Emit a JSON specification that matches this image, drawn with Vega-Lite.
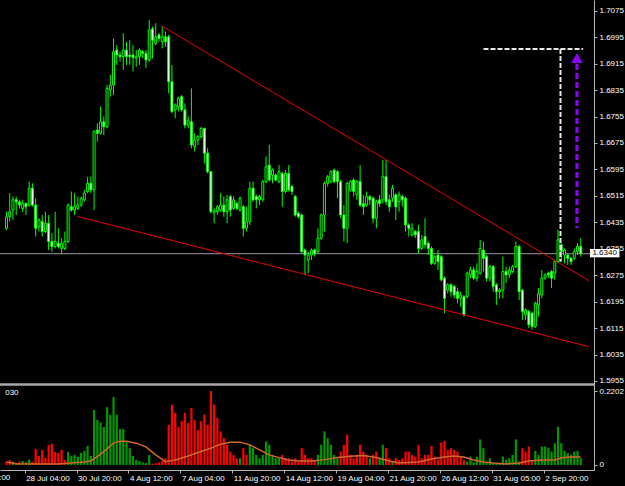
{
"$schema":"https://vega.github.io/schema/vega-lite/v6.json",
"width":594,"height":470,
"autosize":"none",
"padding":{"left":0,"top":0,"right":31,"bottom":16},
"background":"#000000",
"config":{"view":{"stroke":null},"axis":{"grid":false,"labelFont":"Liberation Sans","labelFontSize":8,"labelColor":"#ffffff","domainColor":"#b4b4b4","tickColor":"#b4b4b4","labelOverlap":false,"labelFlush":false,"title":null}},
"datasets":{
"candles":[
{"k":10,"o":1.6417,"h":1.6467,"l":1.6412,"c":1.6452},{"k":11,"o":1.6452,"h":1.6523,"l":1.6437,"c":1.6467},{"k":12,"o":1.6472,"h":1.6513,"l":1.6442,"c":1.6503},{"k":13,"o":1.6503,"h":1.6513,"l":1.6457,"c":1.6497},{"k":14,"o":1.6497,"h":1.6503,"l":1.6477,"c":1.6487},{"k":15,"o":1.6477,"h":1.6503,"l":1.6467,"c":1.6492},{"k":16,"o":1.6492,"h":1.6495,"l":1.6457,"c":1.6482},{"k":17,"o":1.6487,"h":1.6558,"l":1.6482,"c":1.6538},{"k":18,"o":1.6538,"h":1.6553,"l":1.6482,"c":1.6487},{"k":19,"o":1.6487,"h":1.6508,"l":1.6392,"c":1.6417},
{"k":20,"o":1.6422,"h":1.6447,"l":1.6407,"c":1.6442},{"k":21,"o":1.6437,"h":1.6457,"l":1.6392,"c":1.6407},{"k":22,"o":1.6407,"h":1.6467,"l":1.6402,"c":1.6432},{"k":23,"o":1.6432,"h":1.6457,"l":1.6351,"c":1.6377},{"k":24,"o":1.6377,"h":1.6402,"l":1.6346,"c":1.6362},{"k":25,"o":1.6362,"h":1.6467,"l":1.6356,"c":1.6377},{"k":26,"o":1.6372,"h":1.6417,"l":1.6356,"c":1.6362},{"k":27,"o":1.6356,"h":1.6387,"l":1.6338,"c":1.6372},{"k":28,"o":1.6356,"h":1.6407,"l":1.6351,"c":1.6377},{"k":29,"o":1.6377,"h":1.6492,"l":1.6372,"c":1.6487},
{"k":30,"o":1.6482,"h":1.6528,"l":1.6467,"c":1.6472},{"k":31,"o":1.6472,"h":1.6523,"l":1.6457,"c":1.6482},{"k":32,"o":1.6477,"h":1.6513,"l":1.6472,"c":1.6487},{"k":33,"o":1.6487,"h":1.6513,"l":1.6482,"c":1.6508},{"k":34,"o":1.6503,"h":1.6533,"l":1.6497,"c":1.6523},{"k":35,"o":1.6528,"h":1.6573,"l":1.6523,"c":1.6553},{"k":36,"o":1.6553,"h":1.6573,"l":1.6523,"c":1.6533},{"k":37,"o":1.6533,"h":1.6714,"l":1.6472,"c":1.6709},{"k":38,"o":1.6714,"h":1.6734,"l":1.6679,"c":1.6704},{"k":39,"o":1.6704,"h":1.6785,"l":1.67,"c":1.6739},
{"k":40,"o":1.6739,"h":1.6755,"l":1.6699,"c":1.6724},{"k":41,"o":1.6724,"h":1.685,"l":1.6719,"c":1.684},{"k":42,"o":1.6835,"h":1.6881,"l":1.6815,"c":1.685},{"k":43,"o":1.685,"h":1.6991,"l":1.682,"c":1.6951},{"k":44,"o":1.6956,"h":1.6971,"l":1.6911,"c":1.6941},{"k":45,"o":1.6941,"h":1.6951,"l":1.6921,"c":1.6936},{"k":46,"o":1.6936,"h":1.7007,"l":1.6896,"c":1.6956},{"k":47,"o":1.6956,"h":1.6981,"l":1.6911,"c":1.6936},{"k":48,"o":1.6941,"h":1.6986,"l":1.6911,"c":1.6936},{"k":49,"o":1.6941,"h":1.6971,"l":1.6891,"c":1.6933},
{"k":50,"o":1.6931,"h":1.6956,"l":1.6906,"c":1.6936},{"k":51,"o":1.6936,"h":1.6961,"l":1.6911,"c":1.6956},{"k":52,"o":1.6951,"h":1.6956,"l":1.6931,"c":1.6946},{"k":53,"o":1.6946,"h":1.6956,"l":1.6901,"c":1.6926},{"k":54,"o":1.6926,"h":1.7047,"l":1.6921,"c":1.7017},{"k":55,"o":1.702,"h":1.7027,"l":1.6931,"c":1.6986},{"k":56,"o":1.6976,"h":1.7037,"l":1.6971,"c":1.6996},{"k":57,"o":1.7002,"h":1.7007,"l":1.6981,"c":1.6991},{"k":58,"o":1.6981,"h":1.7027,"l":1.6961,"c":1.6996},{"k":59,"o":1.6996,"h":1.7012,"l":1.6966,"c":1.6981},
{"k":60,"o":1.6996,"h":1.7002,"l":1.6825,"c":1.686},{"k":61,"o":1.686,"h":1.6911,"l":1.6765,"c":1.677},{"k":62,"o":1.6775,"h":1.6795,"l":1.675,"c":1.679},{"k":63,"o":1.6785,"h":1.6815,"l":1.677,"c":1.681},{"k":64,"o":1.6815,"h":1.682,"l":1.677,"c":1.6775},{"k":65,"o":1.6775,"h":1.6795,"l":1.6719,"c":1.6729},{"k":66,"o":1.6729,"h":1.6755,"l":1.6719,"c":1.6744},{"k":67,"o":1.6739,"h":1.684,"l":1.6659,"c":1.6669},{"k":68,"o":1.6664,"h":1.6704,"l":1.6649,"c":1.6684},{"k":69,"o":1.6684,"h":1.6699,"l":1.6669,"c":1.6694},
{"k":70,"o":1.6694,"h":1.6724,"l":1.6689,"c":1.6719},{"k":71,"o":1.6719,"h":1.6721,"l":1.6613,"c":1.6644},{"k":72,"o":1.6644,"h":1.6659,"l":1.6583,"c":1.6588},{"k":73,"o":1.6588,"h":1.659,"l":1.6462,"c":1.6467},{"k":74,"o":1.6465,"h":1.6477,"l":1.6432,"c":1.647},{"k":75,"o":1.6467,"h":1.6487,"l":1.6457,"c":1.6482},{"k":76,"o":1.6472,"h":1.6523,"l":1.6467,"c":1.6487},{"k":77,"o":1.6487,"h":1.6513,"l":1.6452,"c":1.6467},{"k":78,"o":1.6467,"h":1.6518,"l":1.6432,"c":1.6503},{"k":79,"o":1.6513,"h":1.6518,"l":1.6452,"c":1.6472},
{"k":80,"o":1.6477,"h":1.6513,"l":1.6472,"c":1.6503},{"k":81,"o":1.6492,"h":1.6497,"l":1.6472,"c":1.6477},{"k":82,"o":1.6472,"h":1.6513,"l":1.6467,"c":1.6508},{"k":83,"o":1.6482,"h":1.6487,"l":1.6392,"c":1.6417},{"k":84,"o":1.6417,"h":1.6482,"l":1.6407,"c":1.6437},{"k":85,"o":1.6437,"h":1.6558,"l":1.6427,"c":1.6538},{"k":86,"o":1.6538,"h":1.6558,"l":1.6497,"c":1.6503},{"k":87,"o":1.6513,"h":1.6518,"l":1.6477,"c":1.6503},{"k":88,"o":1.6503,"h":1.6518,"l":1.6487,"c":1.6513},{"k":89,"o":1.6503,"h":1.6563,"l":1.6497,"c":1.6558},
{"k":90,"o":1.6558,"h":1.6634,"l":1.6553,"c":1.6603},{"k":91,"o":1.6608,"h":1.6669,"l":1.6558,"c":1.6563},{"k":92,"o":1.6578,"h":1.6598,"l":1.6553,"c":1.6593},{"k":93,"o":1.6578,"h":1.6583,"l":1.6558,"c":1.6563},{"k":94,"o":1.6558,"h":1.6608,"l":1.6553,"c":1.6588},{"k":95,"o":1.6583,"h":1.6588,"l":1.6482,"c":1.6528},{"k":96,"o":1.6528,"h":1.6593,"l":1.6523,"c":1.6583},{"k":97,"o":1.6583,"h":1.6608,"l":1.6528,"c":1.6533},{"k":98,"o":1.6543,"h":1.6548,"l":1.6518,"c":1.6528},{"k":99,"o":1.6513,"h":1.6518,"l":1.6452,"c":1.6457},
{"k":100,"o":1.6462,"h":1.6467,"l":1.6447,"c":1.6452},{"k":101,"o":1.6457,"h":1.6462,"l":1.6341,"c":1.6346},{"k":102,"o":1.6351,"h":1.6356,"l":1.6276,"c":1.6336},{"k":103,"o":1.6321,"h":1.6346,"l":1.6281,"c":1.6336},{"k":104,"o":1.6336,"h":1.6356,"l":1.6321,"c":1.6351},{"k":105,"o":1.6351,"h":1.6356,"l":1.6331,"c":1.6341},{"k":106,"o":1.6346,"h":1.6417,"l":1.6341,"c":1.6387},{"k":107,"o":1.6387,"h":1.6462,"l":1.6382,"c":1.6457},{"k":108,"o":1.6457,"h":1.6558,"l":1.6407,"c":1.6553},{"k":109,"o":1.6553,"h":1.6578,"l":1.6543,"c":1.6573},
{"k":110,"o":1.6558,"h":1.6593,"l":1.6553,"c":1.6588},{"k":111,"o":1.6593,"h":1.6598,"l":1.6553,"c":1.6558},{"k":112,"o":1.6588,"h":1.6593,"l":1.6508,"c":1.6558},{"k":113,"o":1.6558,"h":1.6563,"l":1.6447,"c":1.6457},{"k":114,"o":1.6457,"h":1.6487,"l":1.6377,"c":1.6417},{"k":115,"o":1.6417,"h":1.6558,"l":1.6372,"c":1.6553},{"k":116,"o":1.6533,"h":1.6563,"l":1.6528,"c":1.6558},{"k":117,"o":1.6563,"h":1.6568,"l":1.6513,"c":1.6528},{"k":118,"o":1.6518,"h":1.6563,"l":1.6503,"c":1.6558},{"k":119,"o":1.6558,"h":1.6608,"l":1.6482,"c":1.6487},
{"k":120,"o":1.6492,"h":1.6518,"l":1.6457,"c":1.6482},{"k":121,"o":1.6487,"h":1.6528,"l":1.6482,"c":1.6513},{"k":122,"o":1.6513,"h":1.6518,"l":1.6487,"c":1.6503},{"k":123,"o":1.6508,"h":1.6513,"l":1.6432,"c":1.6447},{"k":124,"o":1.6447,"h":1.6503,"l":1.6417,"c":1.6497},{"k":125,"o":1.6503,"h":1.6518,"l":1.6482,"c":1.6492},{"k":126,"o":1.6503,"h":1.6624,"l":1.6492,"c":1.6573},{"k":127,"o":1.6573,"h":1.6624,"l":1.6487,"c":1.6497},{"k":128,"o":1.6503,"h":1.6518,"l":1.6467,"c":1.6482},{"k":129,"o":1.6508,"h":1.6548,"l":1.6497,"c":1.6538},
{"k":130,"o":1.6518,"h":1.6523,"l":1.6442,"c":1.6482},{"k":131,"o":1.6497,"h":1.6528,"l":1.6467,"c":1.6518},{"k":132,"o":1.6513,"h":1.6518,"l":1.6482,"c":1.6503},{"k":133,"o":1.6508,"h":1.6513,"l":1.6407,"c":1.6427},{"k":134,"o":1.6427,"h":1.6432,"l":1.6392,"c":1.6417},{"k":135,"o":1.6397,"h":1.6432,"l":1.6392,"c":1.6417},{"k":136,"o":1.6407,"h":1.6412,"l":1.6387,"c":1.6397},{"k":137,"o":1.6407,"h":1.6427,"l":1.6341,"c":1.6356},{"k":138,"o":1.6356,"h":1.6397,"l":1.6351,"c":1.6382},{"k":139,"o":1.6392,"h":1.6447,"l":1.6356,"c":1.6367},
{"k":140,"o":1.6372,"h":1.6377,"l":1.6336,"c":1.6356},{"k":141,"o":1.6356,"h":1.6362,"l":1.6306,"c":1.6311},{"k":142,"o":1.6311,"h":1.6336,"l":1.6306,"c":1.6331},{"k":143,"o":1.6336,"h":1.6351,"l":1.6291,"c":1.6316},{"k":144,"o":1.6331,"h":1.6336,"l":1.6256,"c":1.6261},{"k":145,"o":1.6266,"h":1.6271,"l":1.616,"c":1.6205},{"k":146,"o":1.623,"h":1.6251,"l":1.622,"c":1.6246},{"k":147,"o":1.6246,"h":1.6251,"l":1.621,"c":1.6225},{"k":148,"o":1.6241,"h":1.6246,"l":1.6205,"c":1.6215},{"k":149,"o":1.6225,"h":1.6236,"l":1.619,"c":1.6205},
{"k":150,"o":1.6205,"h":1.6225,"l":1.618,"c":1.6215},{"k":151,"o":1.621,"h":1.6215,"l":1.615,"c":1.6155},{"k":152,"o":1.621,"h":1.6286,"l":1.6205,"c":1.6281},{"k":153,"o":1.6276,"h":1.6301,"l":1.6266,"c":1.6291},{"k":154,"o":1.6291,"h":1.6301,"l":1.6261,"c":1.6266},{"k":155,"o":1.6266,"h":1.6311,"l":1.6256,"c":1.6286},{"k":156,"o":1.6281,"h":1.6382,"l":1.6276,"c":1.6356},{"k":157,"o":1.6351,"h":1.6377,"l":1.6286,"c":1.6326},{"k":158,"o":1.6331,"h":1.6336,"l":1.6256,"c":1.6266},{"k":159,"o":1.6266,"h":1.6306,"l":1.6256,"c":1.6301},
{"k":160,"o":1.6301,"h":1.6306,"l":1.6225,"c":1.6241},{"k":161,"o":1.6246,"h":1.6251,"l":1.6185,"c":1.6225},{"k":162,"o":1.6225,"h":1.6236,"l":1.6205,"c":1.623},{"k":163,"o":1.623,"h":1.6331,"l":1.6205,"c":1.6286},{"k":164,"o":1.6286,"h":1.6301,"l":1.6251,"c":1.6276},{"k":165,"o":1.6276,"h":1.6301,"l":1.6266,"c":1.6291},{"k":166,"o":1.6286,"h":1.6306,"l":1.6281,"c":1.6301},{"k":167,"o":1.6301,"h":1.6377,"l":1.6296,"c":1.6362},{"k":168,"o":1.6362,"h":1.6367,"l":1.62,"c":1.6225},{"k":169,"o":1.623,"h":1.6233,"l":1.614,"c":1.6165},
{"k":170,"o":1.6155,"h":1.6175,"l":1.614,"c":1.617},{"k":171,"o":1.6165,"h":1.617,"l":1.6115,"c":1.6125},{"k":172,"o":1.616,"h":1.6165,"l":1.611,"c":1.612},{"k":173,"o":1.612,"h":1.6195,"l":1.6115,"c":1.619},{"k":174,"o":1.6185,"h":1.6236,"l":1.615,"c":1.622},{"k":175,"o":1.6215,"h":1.6291,"l":1.6205,"c":1.6266},{"k":176,"o":1.6266,"h":1.6281,"l":1.6261,"c":1.6276},{"k":177,"o":1.6281,"h":1.6286,"l":1.6266,"c":1.6276},{"k":178,"o":1.6286,"h":1.6291,"l":1.6236,"c":1.6266},{"k":179,"o":1.6281,"h":1.6321,"l":1.6261,"c":1.6316},
{"k":180,"o":1.6316,"h":1.6412,"l":1.6311,"c":1.6382},{"k":181,"o":1.6367,"h":1.6372,"l":1.6316,"c":1.6346},{"k":182,"o":1.6336,"h":1.6356,"l":1.6311,"c":1.6351},{"k":183,"o":1.6336,"h":1.6341,"l":1.6306,"c":1.6326},{"k":184,"o":1.6326,"h":1.6331,"l":1.6306,"c":1.6316},{"k":185,"o":1.6326,"h":1.6356,"l":1.6321,"c":1.6346},{"k":186,"o":1.6346,"h":1.6372,"l":1.6336,"c":1.6362},{"k":187,"o":1.6362,"h":1.6387,"l":1.6331,"c":1.634}
],
"vol":[
{"k":10,"v":0.010,"d":"dn"},{"k":11,"v":0.015,"d":"dn"},{"k":12,"v":0.010,"d":"up"},{"k":13,"v":0.006,"d":"up"},{"k":14,"v":0.010,"d":"dn"},{"k":15,"v":0.012,"d":"up"},{"k":16,"v":0.008,"d":"up"},{"k":17,"v":0.016,"d":"up"},{"k":18,"v":0.010,"d":"dn"},{"k":19,"v":0.048,"d":"dn"},
{"k":20,"v":0.027,"d":"dn"},{"k":21,"v":0.045,"d":"dn"},{"k":22,"v":0.021,"d":"dn"},{"k":23,"v":0.060,"d":"dn"},{"k":24,"v":0.063,"d":"dn"},{"k":25,"v":0.039,"d":"dn"},{"k":26,"v":0.036,"d":"dn"},{"k":27,"v":0.045,"d":"dn"},{"k":28,"v":0.015,"d":"dn"},{"k":29,"v":0.039,"d":"up"},
{"k":30,"v":0.027,"d":"up"},{"k":31,"v":0.030,"d":"up"},{"k":32,"v":0.025,"d":"up"},{"k":33,"v":0.036,"d":"up"},{"k":34,"v":0.042,"d":"up"},{"k":35,"v":0.057,"d":"up"},{"k":36,"v":0.027,"d":"up"},{"k":37,"v":0.164,"d":"up"},{"k":38,"v":0.134,"d":"up"},{"k":39,"v":0.127,"d":"up"},
{"k":40,"v":0.113,"d":"up"},{"k":41,"v":0.172,"d":"up"},{"k":42,"v":0.149,"d":"up"},{"k":43,"v":0.202,"d":"up"},{"k":44,"v":0.150,"d":"up"},{"k":45,"v":0.107,"d":"up"},{"k":46,"v":0.107,"d":"up"},{"k":47,"v":0.068,"d":"up"},{"k":48,"v":0.050,"d":"up"},{"k":49,"v":0.027,"d":"up"},
{"k":50,"v":0.015,"d":"up"},{"k":51,"v":0.012,"d":"up"},{"k":52,"v":0.008,"d":"up"},{"k":53,"v":0.006,"d":"up"},{"k":54,"v":0.030,"d":"up"},{"k":55,"v":0.004,"d":"dn"},{"k":56,"v":0.005,"d":"dn"},{"k":57,"v":0.008,"d":"dn"},{"k":58,"v":0.012,"d":"dn"},{"k":59,"v":0.020,"d":"dn"},
{"k":60,"v":0.119,"d":"dn"},{"k":61,"v":0.179,"d":"dn"},{"k":62,"v":0.155,"d":"dn"},{"k":63,"v":0.113,"d":"dn"},{"k":64,"v":0.131,"d":"dn"},{"k":65,"v":0.155,"d":"dn"},{"k":66,"v":0.125,"d":"dn"},{"k":67,"v":0.170,"d":"dn"},{"k":68,"v":0.134,"d":"dn"},{"k":69,"v":0.104,"d":"dn"},
{"k":70,"v":0.130,"d":"dn"},{"k":71,"v":0.150,"d":"dn"},{"k":72,"v":0.120,"d":"dn"},{"k":73,"v":0.2202,"d":"dn"},{"k":74,"v":0.180,"d":"dn"},{"k":75,"v":0.140,"d":"dn"},{"k":76,"v":0.100,"d":"dn"},{"k":77,"v":0.080,"d":"dn"},{"k":78,"v":0.060,"d":"dn"},{"k":79,"v":0.040,"d":"dn"},
{"k":80,"v":0.030,"d":"dn"},{"k":81,"v":0.020,"d":"dn"},{"k":82,"v":0.020,"d":"up"},{"k":83,"v":0.050,"d":"dn"},{"k":84,"v":0.030,"d":"dn"},{"k":85,"v":0.060,"d":"up"},{"k":86,"v":0.050,"d":"up"},{"k":87,"v":0.030,"d":"up"},{"k":88,"v":0.020,"d":"up"},{"k":89,"v":0.030,"d":"up"},
{"k":90,"v":0.070,"d":"up"},{"k":91,"v":0.060,"d":"up"},{"k":92,"v":0.030,"d":"up"},{"k":93,"v":0.020,"d":"up"},{"k":94,"v":0.020,"d":"up"},{"k":95,"v":0.030,"d":"dn"},{"k":96,"v":0.020,"d":"dn"},{"k":97,"v":0.020,"d":"dn"},{"k":98,"v":0.010,"d":"dn"},{"k":99,"v":0.020,"d":"dn"},
{"k":100,"v":0.010,"d":"dn"},{"k":101,"v":0.050,"d":"dn"},{"k":102,"v":0.030,"d":"dn"},{"k":103,"v":0.020,"d":"dn"},{"k":104,"v":0.020,"d":"dn"},{"k":105,"v":0.015,"d":"dn"},{"k":106,"v":0.030,"d":"up"},{"k":107,"v":0.060,"d":"up"},{"k":108,"v":0.100,"d":"up"},{"k":109,"v":0.080,"d":"up"},
{"k":110,"v":0.060,"d":"up"},{"k":111,"v":0.030,"d":"up"},{"k":112,"v":0.020,"d":"up"},{"k":113,"v":0.040,"d":"dn"},{"k":114,"v":0.060,"d":"dn"},{"k":115,"v":0.090,"d":"dn"},{"k":116,"v":0.030,"d":"dn"},{"k":117,"v":0.020,"d":"dn"},{"k":118,"v":0.030,"d":"dn"},{"k":119,"v":0.060,"d":"dn"},
{"k":120,"v":0.040,"d":"dn"},{"k":121,"v":0.030,"d":"dn"},{"k":122,"v":0.020,"d":"up"},{"k":123,"v":0.030,"d":"dn"},{"k":124,"v":0.040,"d":"dn"},{"k":125,"v":0.020,"d":"up"},{"k":126,"v":0.060,"d":"up"},{"k":127,"v":0.050,"d":"dn"},{"k":128,"v":0.020,"d":"dn"},{"k":129,"v":0.010,"d":"up"},
{"k":130,"v":0.020,"d":"dn"},{"k":131,"v":0.015,"d":"dn"},{"k":132,"v":0.020,"d":"dn"},{"k":133,"v":0.040,"d":"dn"},{"k":134,"v":0.040,"d":"dn"},{"k":135,"v":0.030,"d":"dn"},{"k":136,"v":0.025,"d":"dn"},{"k":137,"v":0.060,"d":"dn"},{"k":138,"v":0.020,"d":"dn"},{"k":139,"v":0.030,"d":"dn"},
{"k":140,"v":0.030,"d":"dn"},{"k":141,"v":0.057,"d":"dn"},{"k":142,"v":0.025,"d":"dn"},{"k":143,"v":0.015,"d":"dn"},{"k":144,"v":0.067,"d":"dn"},{"k":145,"v":0.072,"d":"dn"},{"k":146,"v":0.045,"d":"dn"},{"k":147,"v":0.050,"d":"dn"},{"k":148,"v":0.045,"d":"dn"},{"k":149,"v":0.040,"d":"dn"},
{"k":150,"v":0.025,"d":"dn"},{"k":151,"v":0.015,"d":"dn"},{"k":152,"v":0.010,"d":"up"},{"k":153,"v":0.025,"d":"up"},{"k":154,"v":0.008,"d":"up"},{"k":155,"v":0.025,"d":"up"},{"k":156,"v":0.076,"d":"up"},{"k":157,"v":0.050,"d":"up"},{"k":158,"v":0.006,"d":"up"},{"k":159,"v":0.020,"d":"up"},
{"k":160,"v":0.006,"d":"up"},{"k":161,"v":0.005,"d":"up"},{"k":162,"v":0.004,"d":"up"},{"k":163,"v":0.025,"d":"up"},{"k":164,"v":0.015,"d":"up"},{"k":165,"v":0.020,"d":"up"},{"k":166,"v":0.030,"d":"up"},{"k":167,"v":0.076,"d":"up"},{"k":168,"v":0.010,"d":"up"},{"k":169,"v":0.050,"d":"dn"},
{"k":170,"v":0.040,"d":"dn"},{"k":171,"v":0.055,"d":"dn"},{"k":172,"v":0.010,"d":"dn"},{"k":173,"v":0.042,"d":"up"},{"k":174,"v":0.030,"d":"up"},{"k":175,"v":0.055,"d":"up"},{"k":176,"v":0.055,"d":"up"},{"k":177,"v":0.052,"d":"up"},{"k":178,"v":0.040,"d":"up"},{"k":179,"v":0.065,"d":"up"},
{"k":180,"v":0.114,"d":"up"},{"k":181,"v":0.065,"d":"up"},{"k":182,"v":0.042,"d":"up"},{"k":183,"v":0.035,"d":"up"},{"k":184,"v":0.030,"d":"up"},{"k":185,"v":0.040,"d":"up"},{"k":186,"v":0.042,"d":"up"},{"k":187,"v":0.020,"d":"up"}
],
"ma":[
{"k":10,"m":0.009},{"k":13,"m":0.004},{"k":20,"m":0.003},{"k":26,"m":0.003},{"k":30,"m":0.006},{"k":34,"m":0.009},{"k":36,"m":0.012},{"k":38,"m":0.025},{"k":40,"m":0.040},{"k":43,"m":0.065},{"k":45,"m":0.071},{"k":47,"m":0.071},{"k":50,"m":0.065},{"k":53,"m":0.054},{"k":56,"m":0.030},{"k":59,"m":0.010},{"k":62,"m":0.015},{"k":66,"m":0.027},{"k":70,"m":0.040},{"k":73,"m":0.050},{"k":76,"m":0.062},{"k":79,"m":0.068},{"k":82,"m":0.068},{"k":85,"m":0.060},{"k":88,"m":0.045},{"k":91,"m":0.030},{"k":94,"m":0.022},{"k":97,"m":0.015},{"k":100,"m":0.012},{"k":104,"m":0.012},{"k":108,"m":0.016},{"k":112,"m":0.022},{"k":116,"m":0.026},{"k":120,"m":0.028},{"k":124,"m":0.022},{"k":128,"m":0.012},{"k":131,"m":0.006},{"k":137,"m":0.009},{"k":141,"m":0.018},{"k":145,"m":0.024},{"k":148,"m":0.027},{"k":151,"m":0.024},{"k":154,"m":0.015},{"k":157,"m":0.009},{"k":160,"m":0.006},{"k":164,"m":0.003},{"k":168,"m":0.006},{"k":171,"m":0.012},{"k":175,"m":0.015},{"k":179,"m":0.015},{"k":181,"m":0.021},{"k":183,"m":0.024},{"k":187,"m":0.024}
],
"segs":[
{"x1":57.82,"y1":1.70293,"x2":189.545,"y2":1.62581,"s":"red"},
{"x1":31.76,"y1":1.64531,"x2":189.545,"y2":1.60587,"s":"red"},
{"x1":157.03,"y1":1.69592,"x2":187.73,"y2":1.69592,"s":"white"},
{"x1":180.76,"y1":1.69592,"x2":180.76,"y2":1.63158,"s":"white"},
{"x1":185.82,"y1":1.69138,"x2":185.82,"y2":1.64178,"s":"purple"}
]
},
"layer":[
{"layer":[
{"data":{"values":[{"p":1.634}]},"mark":{"type":"rule","stroke":"#9a9aa2","strokeWidth":1},
 "encoding":{"y":{"field":"p","type":"quantitative","scale":{"domain":[1.56858,1.71074],"nice":false,"zero":false},
   "axis":{"orient":"right","values":[1.7075,1.6995,1.6915,1.6835,1.6755,1.6675,1.6595,1.6515,1.6435,1.6355,1.6275,1.6195,1.6115,1.6035,1.5955],"tickCount":40,"labelOverlap":false,"format":".4f","tickSize":3,"labelPadding":2,"title":null}}}},
{"data":{"values":[{"p":1.59444}]},"mark":{"type":"rule","stroke":"#a8a8a8","strokeWidth":2.5},
 "encoding":{"y":{"field":"p","type":"quantitative"}}},
{"data":{"name":"candles"},"mark":{"type":"rule","stroke":"#00ff00","strokeWidth":1},
 "encoding":{
  "x":{"field":"k","type":"quantitative","scale":{"domain":[9.545,189.545],"nice":false,"zero":false},
    "axis":{"orient":"bottom","values":[15.6,31.6,47.6,63.6,79.6,95.6,111.6,127.6,143.6,159.6,175.6],"tickCount":40,"labelOverlap":false,
     "labelExpr":"['26 Jul 12:00','28 Jul 04:00','30 Jul 20:00','4 Aug 12:00','7 Aug 04:00','11 Aug 20:00','14 Aug 12:00','19 Aug 04:00','21 Aug 20:00','26 Aug 12:00','31 Aug 05:00','2 Sep 20:00'][round((datum.value+0.4)/16)]",
     "labelAlign":"left","labelBaseline":"top","labelOffset":1,"tickSize":3,"labelPadding":1,"title":null}},
  "y":{"field":"l","type":"quantitative"},"y2":{"field":"h"}}},
{"data":{"name":"candles"},"mark":{"type":"bar","size":2,"stroke":"#00ff00","strokeWidth":1},
 "encoding":{"x":{"field":"k","type":"quantitative"},"y":{"field":"o","type":"quantitative"},"y2":{"field":"c"},
  "fill":{"condition":{"test":"datum.c < datum.o","value":"#ffffff"},"value":"#000000"}}},
{"data":{"name":"segs"},"transform":[{"filter":"datum.s == 'red'"}],"mark":{"type":"rule","stroke":"#e80000","strokeWidth":1},
 "encoding":{"x":{"field":"x1","type":"quantitative"},"x2":{"field":"x2"},"y":{"field":"y1","type":"quantitative"},"y2":{"field":"y2"}}},
{"data":{"name":"segs"},"transform":[{"filter":"datum.s == 'white'"}],"mark":{"type":"rule","stroke":"#e8e8e8","strokeWidth":2,"strokeDash":[5,2]},
 "encoding":{"x":{"field":"x1","type":"quantitative"},"x2":{"field":"x2"},"y":{"field":"y1","type":"quantitative"},"y2":{"field":"y2"}}},
{"data":{"name":"segs"},"transform":[{"filter":"datum.s == 'purple'"}],"mark":{"type":"rule","stroke":"#8f00ff","strokeWidth":3,"strokeDash":[6,3]},
 "encoding":{"x":{"field":"x1","type":"quantitative"},"x2":{"field":"x2"},"y":{"field":"y1","type":"quantitative"},"y2":{"field":"y2"}}},
{"data":{"values":[{"k":185.82,"p":1.69319}]},"mark":{"type":"point","shape":"triangle-up","filled":true,"size":130,"color":"#8f00ff","opacity":1},
 "encoding":{"x":{"field":"k","type":"quantitative"},"y":{"field":"p","type":"quantitative"}}},
{"data":{"values":[{"k1":189.85,"k2":198.94,"p1":1.63542,"p2":1.63291}]},"mark":{"type":"rect","fill":"#ffffff"},
 "encoding":{"x":{"field":"k1","type":"quantitative"},"x2":{"field":"k2"},"y":{"field":"p1","type":"quantitative"},"y2":{"field":"p2"}}},
{"data":{"values":[{"k":190.6,"p":1.6342,"t":"1.6340"}]},"mark":{"type":"text","align":"left","baseline":"middle","font":"Liberation Sans","fontSize":8,"color":"#000000"},
 "encoding":{"x":{"field":"k","type":"quantitative"},"y":{"field":"p","type":"quantitative"},"text":{"field":"t"}}},
{"data":{"values":[{"k":-0.4,"p":1.56631,"t":"26 Jul 12:00"}]},"mark":{"type":"text","align":"left","baseline":"middle","dx":-6,"font":"Liberation Sans","fontSize":8,"color":"#ffffff"},
 "encoding":{"x":{"field":"k","type":"quantitative"},"y":{"field":"p","type":"quantitative"},"text":{"field":"t"}}}
]},
{"layer":[
{"data":{"name":"vol"},"mark":{"type":"bar","size":2.2},
 "encoding":{"x":{"field":"k","type":"quantitative"},
  "y":{"field":"v","type":"quantitative","scale":{"domain":[-0.01488,1.3838],"nice":false,"zero":false},
    "axis":{"orient":"right","values":[0,0.2202],"tickCount":40,"labelOverlap":false,"labelExpr":"datum.value == 0 ? '0' : '0.2202'","domain":false,"tickSize":3,"labelPadding":2,"title":null}},
  "y2":{"datum":0},
  "color":{"field":"d","type":"nominal","scale":{"domain":["dn","up"],"range":["#ff0000","#009a00"]},"legend":null}}},
{"data":{"name":"ma"},"mark":{"type":"line","stroke":"#d2692a","strokeWidth":1.5},
 "encoding":{"x":{"field":"k","type":"quantitative"},"y":{"field":"m","type":"quantitative"}}},
{"data":{"values":[{"k":9.6,"v":0.214,"t":"030"}]},"mark":{"type":"text","align":"left","baseline":"middle","font":"Liberation Sans","fontSize":8,"color":"#ffffff"},
 "encoding":{"x":{"field":"k","type":"quantitative"},"y":{"field":"v","type":"quantitative"},"text":{"field":"t"}}}
]}
],
"resolve":{"scale":{"y":"independent"},"axis":{"y":"independent"}}
}
